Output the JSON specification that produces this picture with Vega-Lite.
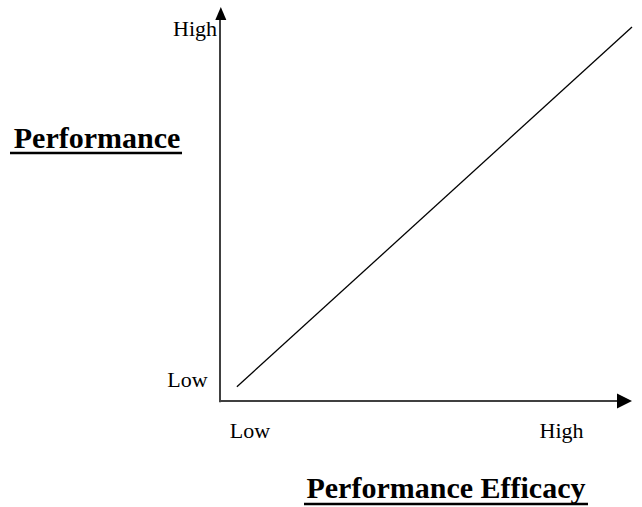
{
  "$schema": "https://vega.github.io/schema/vega-lite/v6.json",
  "width": 642,
  "height": 507,
  "autosize": "none",
  "padding": 0,
  "background": "white",
  "config": {"view": {"stroke": null}},
  "datasets": {
    "trend": [
      {"efficacy": 0.41, "performance": 0.36},
      {"efficacy": 10.0, "performance": 9.49}
    ],
    "axes": [
      {"axis": "y", "x1": 0, "x2": 0, "y1": -0.03, "y2": 9.7},
      {"axis": "x", "x1": 0, "x2": 9.68, "y1": 0, "y2": 0}
    ],
    "labels": [
      {"text": "High", "x": -0.607, "y": 9.264},
      {"text": "Low", "x": -0.789, "y": 0.355},
      {"text": "Low", "x": 0.728, "y": -0.939},
      {"text": "High", "x": 8.29, "y": -0.939}
    ],
    "titles": [
      {"text": "Performance", "x": -2.985, "y": 6.421, "u1": -5.097, "u2": -0.922, "uy": 6.294},
      {"text": "Performance Efficacy", "x": 5.485, "y": -2.462, "u1": 2.039, "u2": 8.932, "uy": -2.614}
    ],
    "arrows": [
      {"dir": "up", "x": 0.02, "y": 9.835},
      {"dir": "right", "x": 9.818, "y": 0}
    ]
  },
  "layer": [
    {
      "data": {"name": "axes"},
      "transform": [{"filter": "datum.axis === 'y'"}],
      "mark": {"type": "rule", "color": "black", "strokeWidth": 1.5},
      "encoding": {
        "x": {"field": "x1", "type": "quantitative", "scale": {"domain": [0, 10], "range": [220, 632], "zero": false, "nice": false}, "axis": null},
        "x2": {"field": "x2"},
        "y": {"field": "y1", "type": "quantitative", "scale": {"domain": [0, 10], "range": [401, 7], "zero": false, "nice": false}, "axis": null},
        "y2": {"field": "y2"}
      }
    },
    {
      "data": {"name": "axes"},
      "transform": [{"filter": "datum.axis === 'x'"}],
      "mark": {"type": "rule", "color": "#404040", "strokeWidth": 2},
      "encoding": {
        "x": {"field": "x1", "type": "quantitative"},
        "x2": {"field": "x2"},
        "y": {"field": "y1", "type": "quantitative"},
        "y2": {"field": "y2"}
      }
    },
    {
      "data": {"name": "trend"},
      "mark": {"type": "line", "color": "black", "strokeWidth": 1.3},
      "encoding": {
        "x": {"field": "efficacy", "type": "quantitative"},
        "y": {"field": "performance", "type": "quantitative"}
      }
    },
    {
      "data": {"name": "arrows"},
      "transform": [{"filter": "datum.dir === 'up'"}],
      "mark": {"type": "point", "filled": true, "color": "black", "opacity": 1, "shape": "M0,-1L0.85,1L-0.85,1Z", "size": 169},
      "encoding": {
        "x": {"field": "x", "type": "quantitative"},
        "y": {"field": "y", "type": "quantitative"}
      }
    },
    {
      "data": {"name": "arrows"},
      "transform": [{"filter": "datum.dir === 'right'"}],
      "mark": {"type": "point", "filled": true, "color": "black", "opacity": 1, "shape": "M1,0L-1,-1L-1,1Z", "size": 225},
      "encoding": {
        "x": {"field": "x", "type": "quantitative"},
        "y": {"field": "y", "type": "quantitative"}
      }
    },
    {
      "data": {"name": "labels"},
      "mark": {"type": "text", "font": "Liberation Serif", "fontSize": 22, "color": "black", "align": "center", "baseline": "alphabetic"},
      "encoding": {
        "x": {"field": "x", "type": "quantitative"},
        "y": {"field": "y", "type": "quantitative"},
        "text": {"field": "text"}
      }
    },
    {
      "data": {"name": "titles"},
      "mark": {"type": "text", "font": "Liberation Serif", "fontSize": 30, "fontWeight": "bold", "color": "black", "align": "center", "baseline": "alphabetic"},
      "encoding": {
        "x": {"field": "x", "type": "quantitative"},
        "y": {"field": "y", "type": "quantitative"},
        "text": {"field": "text"}
      }
    },
    {
      "data": {"name": "titles"},
      "mark": {"type": "rule", "color": "black", "strokeWidth": 2.5},
      "encoding": {
        "x": {"field": "u1", "type": "quantitative"},
        "x2": {"field": "u2"},
        "y": {"field": "uy", "type": "quantitative"}
      }
    }
  ]
}
